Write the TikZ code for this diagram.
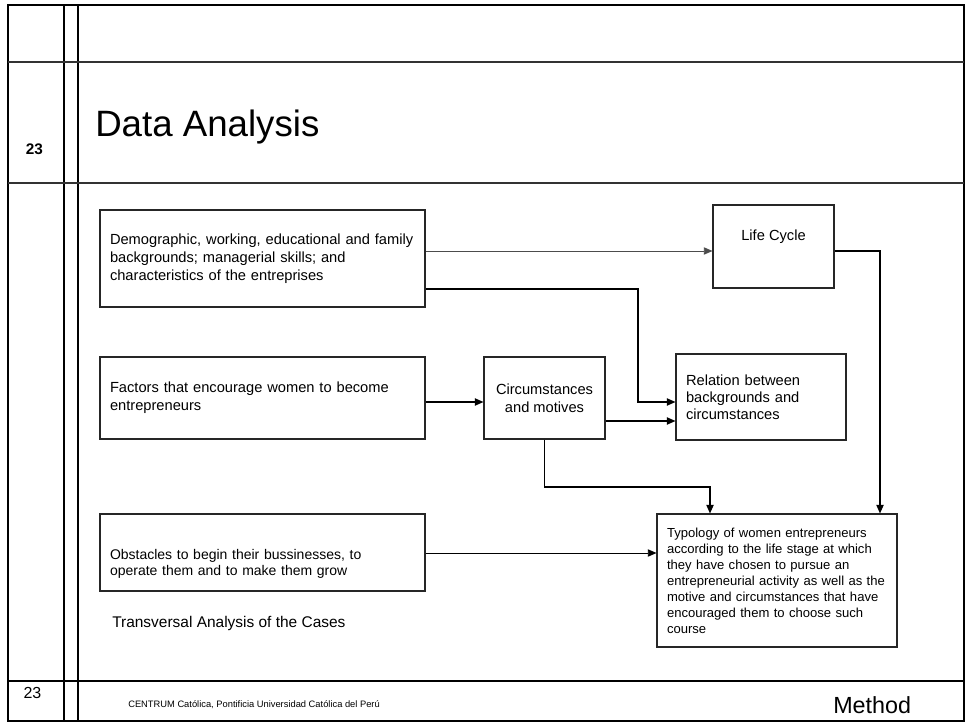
\documentclass[tikz,border=0pt]{standalone}
\usepackage{fontspec}
\setmainfont{Liberation Sans}
\usetikzlibrary{positioning, arrows.meta}

\tikzset{
  casebox/.style={draw=black!85, line width=0.8pt, inner xsep=7.5pt, inner ysep=0pt,
    align=left, font=\fontsize{11}{13.5}\selectfont},
  flow/.style={line width=0.9pt, -{Triangle[length=6.5pt,width=5.5pt]}},
  frameline/.style={line width=1.2pt}
}

\begin{document}
\begin{tikzpicture}[x=0.75pt, y=-0.75pt]
\useasboundingbox (0,0) rectangle (967,723);

% slide frame
\draw [frameline] (8,5) rectangle (964,721);
\draw [frameline] (64,5) -- (64,721);
\draw [frameline] (78,5) -- (78,721);
\draw [black!80, line width=0.8pt] (8,62) -- (964,62);
\draw [black!80, line width=0.8pt] (8,183) -- (964,183);
\draw [line width=1.6pt] (8,681) -- (964,681);

\node (slidenum) at (34.5,155) [anchor=base, font=\bfseries\fontsize{11.5}{13}\selectfont] {23};
\node (title) at (95,137) [anchor=base west, inner sep=0, font=\fontsize{27.5}{30}\selectfont] {Data Analysis};

% boxes
\node (demo) at (262.5,258.5) [casebox, text width=228.75pt, minimum height=72.75pt]
  {Demographic, working, educational and family\\ backgrounds; managerial skills; and\\ characteristics of the entreprises};

\node (life) at (773.5,246.5) [casebox, minimum width=90.75pt, minimum height=62.25pt,
  label={[yshift=7.1pt, inner sep=0, font=\fontsize{11}{13.5}\selectfont]center:Life Cycle}] {};

\node (factors) at (262.5,398) [casebox, text width=228.75pt, minimum height=61.5pt]
  {Factors that encourage women to become\\ entrepreneurs};

\node (circ) at (544.5,398) [casebox, align=center, minimum width=90.75pt, minimum height=61.5pt]
  {Circumstances\\ and motives};

\node (rel) at (761,397) [casebox, text width=112.5pt, minimum height=64.5pt,
  font=\fontsize{11}{12.75}\selectfont]
  {Relation between\\ backgrounds and\\ circumstances};

\node (typo) at (777,580.5) [casebox, text width=165pt, minimum height=99.75pt,
  font=\fontsize{9.8}{12}\selectfont]
  {Typology of women entrepreneurs\\ according to the life stage at which\\ they have chosen to pursue an\\
   entrepreneurial activity as well as the\\ motive and circumstances that have\\
   encouraged them to choose such\\ course};

\node (obst) at (262.5,552.5) [casebox, minimum width=243.75pt, minimum height=57.75pt,
  label={[yshift=-8.6pt, inner sep=0, align=left, text width=228.75pt,
    font=\fontsize{10.5}{12}\selectfont]center:Obstacles to begin their bussinesses, to\\ operate them and to make them grow}] {};

\node (caption) at (112,627) [anchor=base west, inner sep=0, font=\fontsize{11.6}{14}\selectfont]
  {Transversal Analysis of the Cases};

% levels of the connectors
\coordinate (lvlA) at (0,251);
\coordinate (lvlB) at (0,289);
\coordinate (lvlC) at (0,402);
\coordinate (lvlD) at (0,421);
\coordinate (lvlE) at (0,487);
\coordinate (lvlF) at (0,553);
\coordinate (colA) at (638,0);
\coordinate (colB) at (710,0);
\coordinate (colC) at (880,0);

\draw [flow, black!70, line width=0.7pt] (demo.east |- lvlA) -- (life.west |- lvlA);
\draw [flow] (demo.east |- lvlB) -| (colA |- lvlC) -- (rel.west |- lvlC);
\draw [flow] (factors.east |- lvlC) -- (circ.west |- lvlC);
\draw [flow] (circ.east |- lvlD) -- (rel.west |- lvlD);
\draw [flow] (life.east |- lvlA) -| (typo.north -| colC);
\draw [flow] (circ.south) |- (colB |- lvlE) -- (typo.north -| colB);
\draw [flow, line width=0.7pt] (obst.east |- lvlF) -- (typo.west |- lvlF);

% footer
\node (footnum) at (32.5,698) [anchor=base, font=\fontsize{12}{14}\selectfont] {23};
\node (org) at (128,707) [anchor=base west, inner sep=0, font=\fontsize{7}{8}\selectfont]
  {CENTRUM Católica, Pontificia Universidad Católica del Perú};
\node (section) at (833,713) [anchor=base west, inner sep=0, font=\fontsize{17.5}{20}\selectfont] {Method};

\end{tikzpicture}
\end{document}
